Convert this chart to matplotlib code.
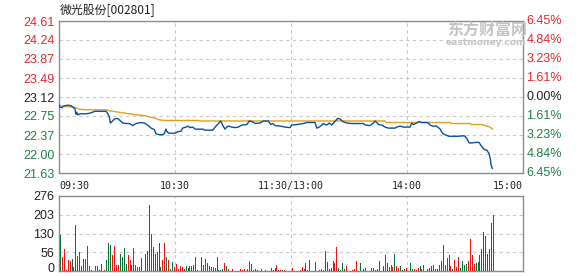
import matplotlib
matplotlib.use("Agg")
import matplotlib.pyplot as plt
from matplotlib.transforms import blended_transform_factory, ScaledTranslation

# ---------------- data ----------------
title = "微光股份[002801]"
pre_close = 23.12
price_ticks = [21.63, 22.00, 22.37, 22.75, 23.12, 23.49, 23.87, 24.24, 24.61]
price_tick_labels = ["21.63", "22.00", "22.37", "22.75", "23.12", "23.49", "23.87", "24.24", "24.61"]
pct_tick_labels = ["6.45%", "4.84%", "3.23%", "1.61%", "0.00%", "1.61%", "3.23%", "4.84%", "6.45%"]
time_labels = ["09:30", "10:30", "11:30/13:00", "14:00", "15:00"]
time_label_pos = [0, 60, 120, 180, 240]

price_t = [0, 0.8, 1.8, 2.5, 4.7, 6.5, 7.7, 8.4, 9.1, 9.4, 10.1, 11.1, 14.2, 15.9, 19.0, 24.6, 25.4,
           26.3, 26.8, 27.7, 28.9, 30.6, 31.8, 33.2, 34.9, 36.6, 38.4, 40.1, 42.7, 44.4, 46.1, 47.9,
           49.6, 50.4, 52.2, 53.9, 54.7, 55.6, 56.3, 57.3, 60.4, 61.7, 63.4, 64.2, 66.0, 67.0, 68.0,
           69.4, 70.8, 74.6, 75.8, 79.8, 81.0, 82.7, 83.9, 84.9, 86.1, 87.0, 87.8, 89.6, 91.3, 93.0,
           94.8, 97.4, 98.7, 99.9, 101.7, 104.2, 106.0, 108.5, 109.8, 110.8, 112.0, 114.6, 117.2,
           119.8, 120.6, 123.2, 126.7, 128.4, 132.7, 133.6, 134.9, 137.0, 138.7, 140.1, 141.3, 143.0,
           144.4, 145.6, 147.0, 149.1, 151.7, 157.7, 158.6, 161.1, 162.9, 163.7, 164.6, 165.5, 167.2,
           168.9, 170.6, 174.1, 174.9, 176.7, 178.4, 181.8, 182.7, 183.6, 185.3, 186.5, 187.9, 191.0,
           192.2, 193.4, 195.6, 197.4, 198.6, 199.9, 202.0, 206.5, 209.9, 211.2, 212.4, 214.1, 215.8,
           217.5, 218.9, 220.3, 221.5, 222.7, 223.4, 223.7, 224.4]
price = [22.98, 22.92, 22.91, 22.94, 22.96, 22.95, 22.91, 22.90, 22.78, 22.82, 22.77, 22.79, 22.79,
         22.80, 22.84, 22.84, 22.80, 22.73, 22.61, 22.64, 22.69, 22.70, 22.66, 22.61, 22.60, 22.60,
         22.56, 22.60, 22.62, 22.61, 22.57, 22.51, 22.48, 22.40, 22.38, 22.38, 22.40, 22.49, 22.43,
         22.41, 22.41, 22.44, 22.45, 22.51, 22.53, 22.55, 22.52, 22.53, 22.49, 22.49, 22.47, 22.47,
         22.53, 22.60, 22.65, 22.57, 22.49, 22.53, 22.55, 22.53, 22.52, 22.53, 22.57, 22.58, 22.65,
         22.64, 22.60, 22.61, 22.65, 22.65, 22.58, 22.60, 22.56, 22.55, 22.53, 22.52, 22.57, 22.58,
         22.60, 22.62, 22.62, 22.51, 22.53, 22.60, 22.57, 22.61, 22.57, 22.64, 22.70, 22.69, 22.64,
         22.61, 22.60, 22.60, 22.57, 22.56, 22.61, 22.65, 22.62, 22.58, 22.57, 22.53, 22.51, 22.51,
         22.53, 22.55, 22.53, 22.53, 22.61, 22.58, 22.61, 22.64, 22.62, 22.62, 22.57, 22.55, 22.55,
         22.49, 22.41, 22.38, 22.35, 22.35, 22.36, 22.31, 22.22, 22.22, 22.23, 22.23, 22.15, 22.09,
         22.08, 22.01, 21.90, 21.79, 21.72]

avg_t = [0, 2.2, 7.3, 9.1, 10.8, 14.2, 24.6, 26.3, 29.7, 33.2, 38.4, 45.3, 47.0, 50.4, 52.2, 55.6,
         72.8, 73.2, 168.9, 169.5, 202.5, 203.0, 212.9, 213.5, 218.9, 220.6, 223.2, 224.4]
avg_price = [22.96, 22.94, 22.92, 22.91, 22.88, 22.87, 22.87, 22.85, 22.83, 22.81, 22.78, 22.75,
             22.73, 22.70, 22.67, 22.66, 22.66, 22.65, 22.65, 22.62, 22.62, 22.60, 22.60, 22.58,
             22.58, 22.56, 22.53, 22.49]

vol_minute = [1, 2, 3, 4, 5, 6, 7, 8, 9, 10, 11, 12, 13, 14, 15, 16, 17, 19, 20, 21, 22, 24, 25, 26,
              27, 28, 29, 30, 31, 32, 33, 34, 35, 36, 37, 38, 39, 40, 41, 42, 43, 45, 46, 47, 48, 49,
              50, 51, 52, 53, 54, 55, 56, 57, 58, 59, 60, 61, 62, 63, 64, 65, 66, 67, 68, 69, 70, 71,
              72, 74, 75, 76, 77, 78, 79, 80, 81, 82, 83, 84, 85, 86, 87, 88, 90, 94, 95, 96, 98, 99,
              100, 101, 102, 103, 105, 107, 110, 111, 112, 113, 114, 115, 116, 117, 121, 125, 126,
              127, 128, 129, 130, 133, 135, 136, 137, 138, 139, 140, 141, 142, 143, 144, 145, 146,
              147, 148, 149, 152, 153, 154, 156, 158, 159, 162, 163, 164, 165, 166, 168, 169, 170,
              171, 172, 173, 174, 175, 176, 177, 178, 179, 180, 182, 183, 184, 185, 186, 187, 188,
              189, 191, 192, 193, 194, 195, 196, 197, 198, 199, 200, 201, 202, 203, 204, 205, 206,
              207, 208, 209, 210, 211, 212, 213, 214, 215, 216, 217, 218, 219, 220, 221, 222, 223,
              224, 225]
vol_value = [131, 53, 82, 5, 40, 38, 45, 16, 168, 56, 71, 20, 45, 45, 93, 20, 5, 20, 20, 5, 27, 5, 42,
             104, 97, 60, 93, 23, 23, 64, 53, 86, 27, 60, 42, 23, 86, 23, 16, 16, 49, 64, 75, 244,
             137, 90, 64, 71, 104, 16, 42, 104, 53, 42, 9, 34, 16, 27, 9, 20, 16, 9, 20, 12, 20, 20,
             23, 53, 5, 53, 23, 45, 31, 20, 16, 16, 12, 53, 5, 5, 9, 31, 20, 9, 9, 9, 5, 9, 9, 38,
             27, 5, 9, 5, 9, 5, 12, 5, 12, 23, 5, 5, 5, 5, 12, 5, 16, 9, 31, 5, 42, 34, 5, 9, 5, 75,
             34, 9, 12, 38, 31, 90, 12, 5, 31, 9, 20, 5, 9, 38, 31, 9, 12, 12, 12, 5, 9, 38, 20, 60,
             31, 16, 23, 16, 64, 20, 12, 20, 5, 9, 12, 31, 9, 9, 5, 12, 20, 9, 23, 9, 12, 20, 23, 9,
             9, 23, 38, 97, 23, 49, 60, 20, 9, 42, 16, 53, 12, 38, 23, 27, 38, 119, 60, 27, 31, 34,
             60, 82, 145, 130, 64, 82, 178, 207]
vol_up = "GRRRRRGRGRGRGRRRRRRRRRGGGRRRRGGGGRRGRRRRGGGGRGGRGGRRGRGGRRRRRRGGGGRRGGGRRRRRRRGGGRGRRRRRRRGGGRRGRGGRRRGRRRRRRRGRRRRGRRGRRRGGGGRRRRGGRRRGGGGRGRRRGRRGGRRGGRRRGGRGGGRRGGGGRGGRGRRRGGGGRRRRGGGGGGGG"
vol_ticks = [0, 69, 138, 207, 276]
vol_tick_labels = ["0", "56", "130", "203", "276"]

# ---------------- style ----------------
RED = "#e3262b"
GREEN = "#1f8046"
BAR_RED = "#ee1111"
BAR_GREEN = "#0b7338"
BLUE = "#0b4fa3"
GOLD = "#e0a21a"
GRID = "#c9c9c9"
FRAME = "#8c8c8c"
NUM_FONT = "Liberation Sans"

W, H = 578, 276
fig = plt.figure(figsize=(W / 100, H / 100), dpi=100)
fig.patch.set_facecolor("white")


def rect(x0, y0, x1, y1):
    return [x0 / W, 1 - y1 / H, (x1 - x0) / W, (y1 - y0) / H]


axp = fig.add_axes(rect(58.5, 21, 522.5, 173))
axv = fig.add_axes(rect(58.5, 196, 522.5, 271))

for ax in (axp, axv):
    ax.set_xlim(0, 240)
    ax.set_xticks([60, 120, 180])
    ax.set_xticklabels([])
    ax.tick_params(length=0)
    ax.grid(True, ls=(0, (3, 3)), color=GRID, lw=0.8)
    ax.set_axisbelow(True)
    for s in ax.spines.values():
        s.set_color(FRAME)
        s.set_linewidth(1.0)

# price panel
axp.set_ylim(price_ticks[0], price_ticks[-1])
axp.set_yticks(price_ticks)
axp.set_yticklabels(price_tick_labels, fontfamily=NUM_FONT, fontsize=9)
axp.tick_params(axis="y", pad=3)
for lab, v in zip(axp.get_yticklabels(), price_ticks):
    lab.set_color(RED if v > pre_close + 1e-6 else (GREEN if v < pre_close - 1e-6 else "#222222"))

trp = blended_transform_factory(axp.transAxes, axp.transData)
for v, lab in zip(price_ticks, reversed(pct_tick_labels)):
    col = RED if v > pre_close + 1e-6 else (GREEN if v < pre_close - 1e-6 else "#222222")
    axp.text(1.008, v, lab, transform=trp, ha="left", va="center", color=col,
             fontfamily=NUM_FONT, fontsize=9)

axp.plot(avg_t, avg_price, color=GOLD, lw=1.0, zorder=3)
axp.plot(price_t, price, color=BLUE, lw=1.0, zorder=4)

# watermark
fig.text(487 / W, 1 - 30 / H, "东方财富网", fontfamily=["Noto Sans CJK SC", "DejaVu Sans"],
         fontsize=11.5, fontweight="bold", color="#c4c4c4", ha="center", va="center")
fig.text(486 / W, 1 - 42.5 / H, "eastmoney.com", fontfamily="DejaVu Sans",
         fontsize=6.6, fontweight="bold", color="#c4c4c4", ha="center", va="center")

# volume panel
axv.set_ylim(0, 276)
axv.set_yticks(vol_ticks)
axv.set_yticklabels(vol_tick_labels, fontfamily=NUM_FONT, fontsize=9, color="#222222")
axv.tick_params(axis="y", pad=3)
zero_lab = axv.get_yticklabels()[0]
zero_lab.set_transform(zero_lab.get_transform() + ScaledTranslation(0, 2.2 / 72, fig.dpi_scale_trans))
colors = [BAR_RED if c == "R" else BAR_GREEN for c in vol_up]
axv.bar(vol_minute, vol_value, width=0.55, color=colors, linewidth=0, zorder=3)

# time labels
trv = blended_transform_factory(axv.transData, axv.transAxes)
for pos, lab in zip(time_label_pos, time_labels):
    ha = "left" if pos == 0 else ("right" if pos == 240 else "center")
    axv.text(pos + (0.4 if pos == 0 else 0), 1.135, lab, transform=trv, ha=ha, va="center",
             fontfamily="DejaVu Sans Mono", fontsize=7.2, color="#222222")

# title
fig.text(60 / W, 1 - 10 / H, title, fontfamily=["Noto Sans CJK SC", "DejaVu Sans"],
         fontsize=8.6, color="#222222", ha="left", va="center")

fig.savefig("out.png", dpi=100, facecolor="white")
